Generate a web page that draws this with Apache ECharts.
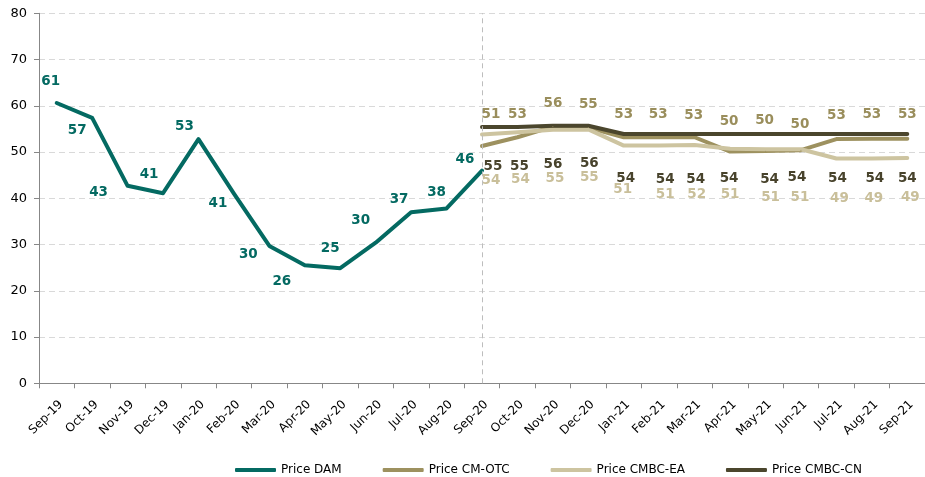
<!DOCTYPE html>
<html><head><meta charset="utf-8">
<script src="https://cdn.jsdelivr.net/npm/echarts@6/dist/echarts.min.js"></script>
<style>html,body{margin:0;padding:0;background:#fff}#c{width:925px;height:477px}</style>
</head><body><div id="c"></div>
<script>
const categories = ['Sep-19','Oct-19','Nov-19','Dec-19','Jan-20','Feb-20','Mar-20','Apr-20','May-20','Jun-20','Jul-20','Aug-20','Sep-20','Oct-20','Nov-20','Dec-20','Jan-21','Feb-21','Mar-21','Apr-21','May-21','Jun-21','Jul-21','Aug-21','Sep-21'];
const seriesNames = ['Price DAM','Price CM-OTC','Price CMBC-EA','Price CMBC-CN'];
const priceDAM    = [60.6,57.4,42.7,41.1,52.8,41.0,29.7,25.5,24.9,30.4,37.0,37.8,46.0,null,null,null,null,null,null,null,null,null,null,null,null];
const priceCMOTC  = [null,null,null,null,null,null,null,null,null,null,null,null,51.3,53.2,55.5,55.3,53.2,53.2,53.2,50.1,50.2,50.4,52.8,52.9,52.9];
const priceCMBCEA = [null,null,null,null,null,null,null,null,null,null,null,null,53.8,54.3,54.8,54.9,51.4,51.4,51.5,50.7,50.6,50.6,48.6,48.6,48.7];
const priceCMBCCN = [null,null,null,null,null,null,null,null,null,null,null,null,55.4,55.4,55.7,55.7,53.9,53.9,53.9,53.9,53.9,53.9,53.9,53.9,53.9];
const yMin = 0, yMax = 80, yStep = 10;

// label placement (layout only, pixel offsets from each point)
const damOff = [[-6,-22],[-15,13],[-29,7],[-14,-19],[-14,-13],[-16,10],[-21,9],[-23,16],[-10,-20],[-15,-22],[-12,-13],[-10,-16],[-17,-11]];
const otcOff = [[9,-32],[0,-23],[0,-23],[0,-23],[0,-23],[-1,-23],[-1,-22],[-1,-30],[-1,-31],[-1,-26],[0,-24],[0,-24],[0,-24]];
const cnOff  = [[11,39],[2,39],[0,39],[1,38],[2,44],[6,45],[1,45],[-1,44],[4,45],[-4,43],[1,44],[3,44],[0,44]];
const eaOff  = [[9,46],[3,47],[2,49],[1,48],[-1,44],[6,49],[2,49],[0,46],[5,48],[-1,48],[3,40],[2,40],[3,39]];

const colors = {dam:'#046A62', otc:'#9D915F', ea:'#CDC4A0', cn:'#4B462D'};
const labelColors = {dam:'#046A62', otc:'#9A8E5C', ea:'#C9BF9A', cn:'#48432C'};
const FONT = 'DejaVu Sans';

function buildData(values, offsets, startIdx){
  return values.map((v,i)=>{
    if (v === null) return null;
    const o = offsets[i - startIdx] || [0,0];
    return {value: v, label: {offset: o}};
  });
}
function mkSeries(name, values, offsets, startIdx, key){
  return {
    name, type:'line', data: buildData(values, offsets, startIdx),
    symbol:'circle', symbolSize:1, showSymbol:true, showAllSymbol:true,
    itemStyle:{color: colors[key]},
    lineStyle:{width:4, color: colors[key], cap:'round', join:'round'},
    label:{show:true, position:'inside', formatter: p => Math.round(p.value),
      color: labelColors[key], fontFamily: FONT, fontWeight:'bold', fontSize:13.5},
    connectNulls:false, silent:true
  };
}
const s0 = mkSeries(seriesNames[0], priceDAM, damOff, 0, 'dam');
s0.markLine = {silent:true, symbol:['none','none'], label:{show:false},
  lineStyle:{color:'#BDBDBD', type:[5,4], width:1}, data:[{xAxis:'Sep-20'}]};
const series = [
  s0,
  mkSeries(seriesNames[1], priceCMOTC, otcOff, 12, 'otc'),
  mkSeries(seriesNames[2], priceCMBCEA, eaOff, 12, 'ea'),
  mkSeries(seriesNames[3], priceCMBCCN, cnOff, 12, 'cn')
];

const chart = echarts.init(document.getElementById('c'), null, {renderer:'canvas'});
chart.setOption({
  animation:false,
  backgroundColor:'#fff',
  grid:{left:39, top:13.3, width:894, height:370, containLabel:false},
  legend:{data:seriesNames, left:230, top:459, icon:'roundRect', itemWidth:41, itemHeight:4, itemGap:41,
    textStyle:{fontFamily:FONT, fontSize:12, color:'#000'}},
  xAxis:{type:'category', data:categories, boundaryGap:true,
    axisLine:{lineStyle:{color:'#878787', width:1}},
    axisTick:{show:true, length:5, lineStyle:{color:'#878787'}},
    axisLabel:{interval:0, rotate:45, align:'right', verticalAlign:'top', margin:15,
      fontFamily:FONT, fontSize:12, color:'#000'},
    splitLine:{show:false}},
  yAxis:{type:'value', min:yMin, max:yMax, interval:yStep,
    axisLine:{show:true, lineStyle:{color:'#878787', width:1}},
    axisTick:{show:true, length:5, lineStyle:{color:'#878787'}},
    axisLabel:{fontFamily:FONT, fontSize:13, color:'#000', margin:12},
    splitLine:{show:true, lineStyle:{color:'#D9D9D9', type:[6,4], width:1}}},
  series
});
</script></body></html>
